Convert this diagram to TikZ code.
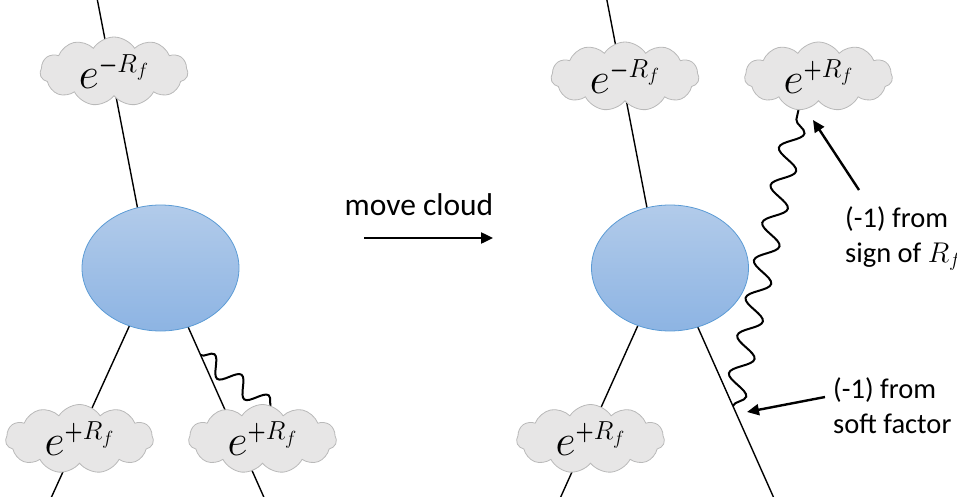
\documentclass[tikz,border=0pt]{standalone}
\usepackage{fix-cm}
\usepackage{graphicx}
\usepackage{fontspec}
\setmainfont{Carlito}
\DeclareMathSizes{44}{44}{26}{19}
\newcommand{\narrowsign}[1]{\mathord{\scalebox{0.8}[1]{\boldmath$\scriptstyle#1$}}}
\usetikzlibrary{shapes.symbols,shapes.geometric,arrows.meta,decorations.pathmorphing}
\definecolor{cloudfill}{RGB}{231,230,230}
\definecolor{clouddraw}{RGB}{185,185,185}
\definecolor{blobtop}{RGB}{178,203,234}
\definecolor{blobbot}{RGB}{141,180,227}
\definecolor{blobdraw}{RGB}{91,155,213}
\tikzset{
  fermion/.style={line width=1.4pt},
  photon/.style={line width=2pt, decorate, decoration={snake, amplitude=#1, segment length=34pt}},
  cloudbox/.style={cloud, cloud puffs=11, cloud puff arc=115, cloud ignores aspect,
    minimum width=148pt, minimum height=69pt, inner sep=0pt, draw=clouddraw, line width=0.8pt, fill=cloudfill},
  blob/.style={ellipse, minimum width=157pt, minimum height=126pt, inner sep=0pt,
    draw=blobdraw, line width=0.8pt, top color=blobtop, bottom color=blobbot},
  mathlabel/.style={font=\fontsize{44}{52}\selectfont, inner sep=0pt},
  note/.style={font=\fontsize{28.5}{35}\selectfont, align=left, inner sep=0pt, anchor=base west},
  bigarrow/.style={line width=2.4pt, -{Triangle[length=12pt,width=11pt]}}
}
\begin{document}
\begin{tikzpicture}[x=1pt,y=-1pt]
\path[use as bounding box] (0,0) rectangle (957,497);
% coordinates of the fermion lines
\coordinate (T1) at (97.0,-2);   \coordinate (E1a) at (143.7,240);
\coordinate (E1b) at (141.2,300); \coordinate (B1) at (50.6,499);
\coordinate (E1c) at (176.1,300); \coordinate (B2) at (264.7,499);
\coordinate (T2) at (606.5,-2);  \coordinate (E2a) at (653.2,240);
\coordinate (E2b) at (649.4,300); \coordinate (B3) at (559.8,499);
\coordinate (E2c) at (685.7,300); \coordinate (B4) at (774.3,499);
% photon ends
\coordinate (S1) at (200.6,355); \coordinate (F1) at (282.7,417.2);
\coordinate (S2) at (732.9,406); \coordinate (F2) at (799.5,105.3);
% fermion lines
\draw[fermion] (T1) -- (E1a);
\draw[fermion] (E1b) -- (B1);
\draw[fermion] (E1c) -- (B2);
\draw[fermion] (T2) -- (E2a);
\draw[fermion] (E2b) -- (B3);
\draw[fermion] (E2c) -- (B4);
% photons
\draw[photon=9pt] (S1) -- (F1);
\draw[photon=11pt, decoration={mirror, segment length=38.5pt}] (S2) -- (F2);
% blobs
\node[blob] (blobL) at (160.5,268) {};
\node[blob] (blobR) at (670,268) {};
% clouds
\node[cloudbox] (cL1) at (114,71.5) {};
\node[cloudbox] (cL2) at (79.5,439) {};
\node[cloudbox] (cL3) at (262.5,439) {};
\node[cloudbox] (cR1) at (625,76.5) {};
\node[cloudbox] (cR2) at (818.5,76.5) {};
\node[cloudbox] (cR3) at (590.5,439) {};
\node[mathlabel] (tL1) at (cL1) {$e^{\narrowsign{-}R_f}$};
\node[mathlabel] (tL2) at (cL2) {$e^{\narrowsign{+}R_f}$};
\node[mathlabel] (tL3) at (cL3) {$e^{\narrowsign{+}R_f}$};
\node[mathlabel] (tR1) at (cR1) {$e^{\narrowsign{-}R_f}$};
\node[mathlabel] (tR2) at (cR2) {$e^{\narrowsign{+}R_f}$};
\node[mathlabel] (tR3) at (cR3) {$e^{\narrowsign{+}R_f}$};
% move arrow
\node[font=\fontsize{31.5}{38}\selectfont, anchor=base, inner sep=0pt] (mv) at (419,215) {move cloud};
\coordinate (M1) at (364,238); \coordinate (M2) at (493,238);
\draw[bigarrow] (M1) -- (M2);
% annotations (anchor is the baseline of the last line)
\node[note] (n1) at (845,262) {(-1) from\\sign of $R_f$};
\node[note] (n2) at (833,433) {(-1) from\\soft factor};
\coordinate (A1) at (859,190); \coordinate (A1t) at (813,120);
\coordinate (A2) at (825,397); \coordinate (A2t) at (747,412);
\draw[bigarrow] (A1) -- (A1t);
\draw[bigarrow] (A2) -- (A2t);
\end{tikzpicture}
\end{document}
